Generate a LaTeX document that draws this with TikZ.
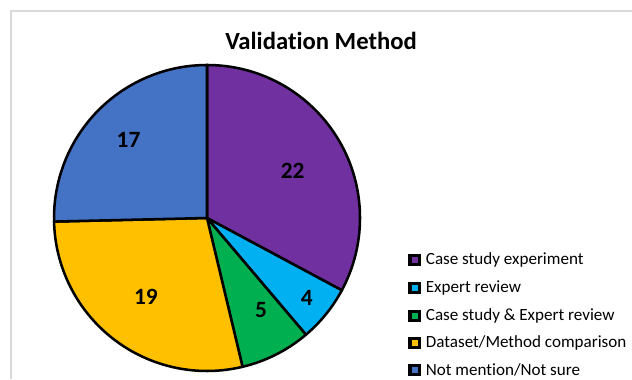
\documentclass[tikz,border=0pt]{standalone}
\usepackage{fontspec}
\setmainfont{Carlito}[Ligatures=NoCommon]
\usetikzlibrary{positioning,calc}
\definecolor{casestudy}{HTML}{7030A0}
\definecolor{expert}{HTML}{00B0F0}
\definecolor{both}{HTML}{00B050}
\definecolor{dataset}{HTML}{FFC000}
\definecolor{notsure}{HTML}{4472C4}
\definecolor{frame}{HTML}{D9D9D9}

\begin{document}
\begin{tikzpicture}[
  x=0.75pt, y=0.75pt,
  slice/.style={fill=#1, draw=black, line width=1.9pt, line join=round},
  val/.style={font=\bfseries\fontsize{17.5}{20}\selectfont, inner sep=0pt},
  key/.style={draw=black, fill=#1, line width=2.6pt, minimum size=7.1pt, inner sep=0pt},
  keytext/.style={font=\fontsize{12.8}{15}\selectfont, inner sep=0pt, anchor=west}
]
  \useasboundingbox (0,0) rectangle (632,379);

  % chart frame
  \draw[frame, line width=1pt] (11,0) -- (11,368) -- (640,368);

  % title
  \node[font=\bfseries\fontsize{18.5}{22}\selectfont] (title) at (321,338) {Validation Method};

  % Pie slices (67 in total, clockwise from the top)
  \coordinate (c) at (207,161);
  \def\rad{153}
  \draw[slice=casestudy] (c) -- ++(90:\rad) arc[start angle=90, end angle=-28.209, radius=\rad] -- cycle;
  \draw[slice=expert] (c) -- ++(-28.209:\rad) arc[start angle=-28.209, end angle=-49.702, radius=\rad] -- cycle;
  \draw[slice=both] (c) -- ++(-49.702:\rad) arc[start angle=-49.702, end angle=-76.567, radius=\rad] -- cycle;
  \draw[slice=dataset] (c) -- ++(-76.567:\rad) arc[start angle=-76.567, end angle=-178.657, radius=\rad] -- cycle;
  \draw[slice=notsure] (c) -- ++(-178.657:\rad) arc[start angle=-178.657, end angle=-270, radius=\rad] -- cycle;

  % Slice values
  \node[val] (v1) at ($(c)+(29:98)$) {22};
  \node[val] (v2) at ($(c)+(-38.7:128)$) {4};
  \node[val] (v3) at ($(c)+(-59.6:107)$) {5};
  \node[val] (v4) at ($(c)+(-127.7:100)$) {19};
  \node[val] (v5) at ($(c)+(135:111)$) {17};

  % Legend
  \node[key=casestudy] (k1) at (414.5,119) {};
  \node[keytext, right=3.5pt of k1] (t1) {Case study experiment};
  \node[key=expert] (k2) at (414.5,91) {};
  \node[keytext, right=3.5pt of k2] (t2) {Expert review};
  \node[key=both] (k3) at (414.5,63) {};
  \node[keytext, right=3.5pt of k3] (t3) {Case study \& Expert review};
  \node[key=dataset] (k4) at (414.5,36) {};
  \node[keytext, right=3.5pt of k4] (t4) {Dataset/Method comparison};
  \node[key=notsure] (k5) at (414.5,9) {};
  \node[keytext, right=3.5pt of k5] (t5) {Not mention/Not sure};
\end{tikzpicture}
\end{document}
